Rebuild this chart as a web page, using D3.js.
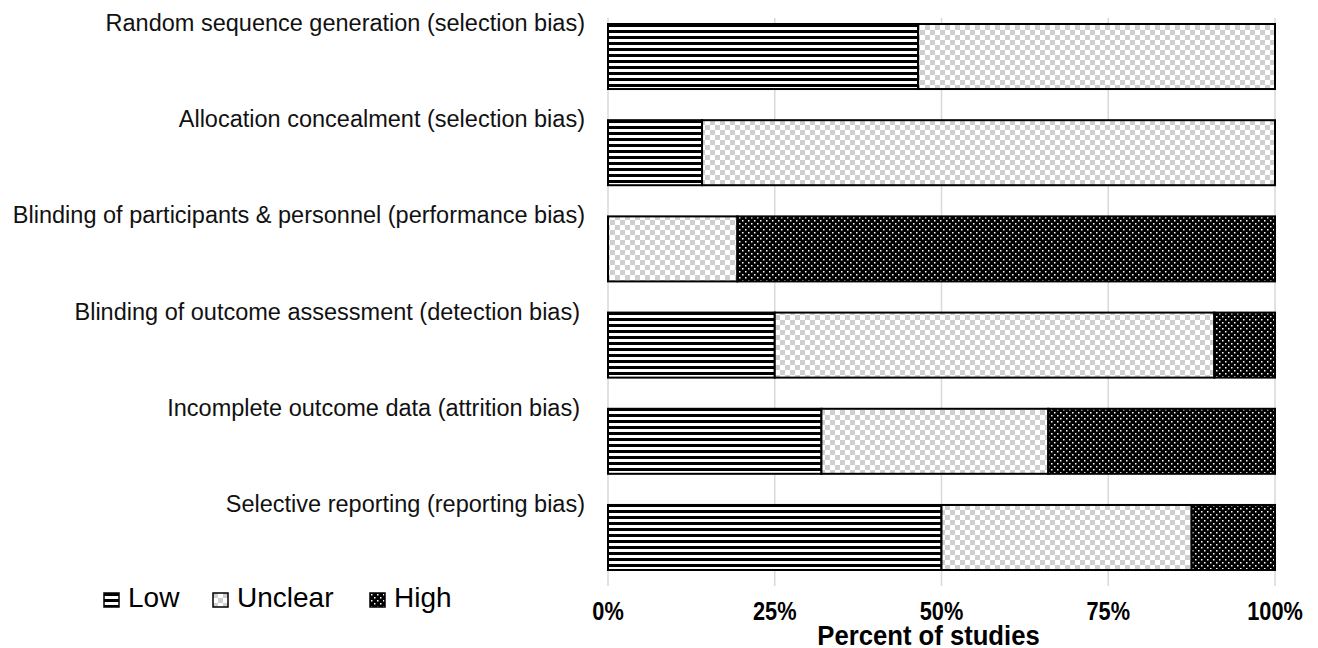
<!DOCTYPE html>
<html>
<head>
<meta charset="utf-8">
<script src="https://d3js.org/d3.v7.min.js"></script>
<style>
  body { margin: 0; background: #fff; }
  svg { display: block; }
</style>
</head>
<body>
<div id="chart"></div>
<script>
// risk of bias summary (percent of studies)
var domains = [
    "Random sequence generation (selection bias)",
    "Allocation concealment (selection bias)",
    "Blinding of participants & personnel (performance bias)",
    "Blinding of outcome assessment (detection bias)",
    "Incomplete outcome data (attrition bias)",
    "Selective reporting (reporting bias)"
];
var lowValues     = [46.5, 14.1, 0,    25,   32,   50];
var unclearValues = [53.5, 85.9, 19.4, 65.9, 34,   37.5];
var highValues    = [0,    0,    80.6, 9.1,  34,   12.5];
var riskLevels = ["Low", "Unclear", "High"];
var xTicks = [0, 25, 50, 75, 100];

var svgWidth = 1318, svgHeight = 648;
var plotLeft = 608, plotRight = 1275, plotTop = 24, plotBottom = 570;

var svg = d3.select("#chart").append("svg")
    .attr("width", svgWidth)
    .attr("height", svgHeight);

// patterns
var defs = svg.append("defs");
var pLow = defs.append("pattern").attr("id", "p-Low")
    .attr("patternUnits", "userSpaceOnUse").attr("width", 6).attr("height", 6);
pLow.append("rect").attr("width", 6).attr("height", 6).attr("fill", "#fff");
pLow.append("rect").attr("y", 0).attr("width", 6).attr("height", 3).attr("fill", "#000");

var pUnc = defs.append("pattern").attr("id", "p-Unclear")
    .attr("patternUnits", "userSpaceOnUse").attr("width", 10).attr("height", 10);
pUnc.append("rect").attr("width", 10).attr("height", 10).attr("fill", "#fff");
pUnc.append("rect").attr("width", 5).attr("height", 5).attr("fill", "#cfcfcf");
pUnc.append("rect").attr("x", 5).attr("y", 5).attr("width", 5).attr("height", 5).attr("fill", "#cfcfcf");

var pHigh = defs.append("pattern").attr("id", "p-High")
    .attr("patternUnits", "userSpaceOnUse").attr("width", 6).attr("height", 6);
pHigh.append("rect").attr("width", 6).attr("height", 6).attr("fill", "#000");
pHigh.append("rect").attr("x", 1).attr("y", 1).attr("width", 1.5).attr("height", 1.5).attr("fill", "#fff");
pHigh.append("rect").attr("x", 4).attr("y", 4).attr("width", 1.5).attr("height", 1.5).attr("fill", "#fff");

var x = d3.scaleLinear().domain([0, 100]).range([plotLeft, plotRight]);
var y = d3.scaleBand().domain(domains).range([plotTop, plotBottom])
    .paddingInner(0.324).paddingOuter(0);

// gridlines
svg.append("g").selectAll("line")
    .data(xTicks)
    .enter().append("line")
    .attr("x1", d => x(d)).attr("x2", d => x(d))
    .attr("y1", 18).attr("y2", 586)
    .attr("stroke", "#d9d9d9")
    .attr("stroke-width", 1.5);

// stacked data
var rows = domains.map(function(name, i) {
    return { name: name, Low: lowValues[i], Unclear: unclearValues[i], High: highValues[i] };
});
var stacked = d3.stack().keys(riskLevels)(rows);

svg.append("g").selectAll("g")
    .data(stacked)
    .enter().append("g")
    .attr("fill", d => "url(#p-" + d.key + ")")
    .selectAll("rect")
    .data(d => d.filter(s => s[1] - s[0] > 0))
    .enter().append("rect")
    .attr("x", d => x(d[0]))
    .attr("width", d => x(d[1]) - x(d[0]))
    .attr("y", d => y(d.data.name))
    .attr("height", y.bandwidth())
    .attr("stroke", "#000")
    .attr("stroke-width", 2);

// category labels above bars
svg.append("g").selectAll("text")
    .data(domains)
    .enter().append("text")
    .attr("x", (d, i) => (i === 3 || i === 4) ? 580 : 585)
    .attr("y", d => y(d) + 7)
    .attr("text-anchor", "end")
    .style("font-family", "Liberation Sans, Arial, sans-serif")
    .style("font-size", "23.5px")
    .style("fill", "#111")
    .text(d => d);

// x axis tick labels (slightly condensed bold)
svg.append("g").selectAll("text")
    .data(xTicks)
    .enter().append("text")
    .attr("transform", d => `translate(${x(d)}, 620) scale(0.87, 1)`)
    .attr("text-anchor", "middle")
    .style("font-family", "Liberation Sans, Arial, sans-serif")
    .style("font-weight", "bold")
    .style("font-size", "25px")
    .text(d => d + "%");

svg.append("text")
    .attr("transform", `translate(${x(50) - 13}, 645) scale(0.9, 1)`)
    .attr("text-anchor", "middle")
    .style("font-family", "Liberation Sans, Arial, sans-serif")
    .style("font-weight", "bold")
    .style("font-size", "28.5px")
    .text("Percent of studies");

// legend
var legendX = [104, 213, 370];
var legend = svg.append("g").selectAll("g")
    .data(riskLevels)
    .enter().append("g")
    .attr("transform", (d, i) => `translate(${legendX[i]}, 593)`);
legend.append("rect")
    .attr("width", 15).attr("height", 14)
    .attr("fill", d => "url(#p-" + d + ")")
    .attr("stroke", "#000")
    .attr("stroke-width", 1.5);
legend.append("text")
    .attr("x", 24)
    .attr("y", 14)
    .style("font-family", "Liberation Sans, Arial, sans-serif")
    .style("font-size", "28px")
    .text(d => d);
</script>
</body>
</html>
